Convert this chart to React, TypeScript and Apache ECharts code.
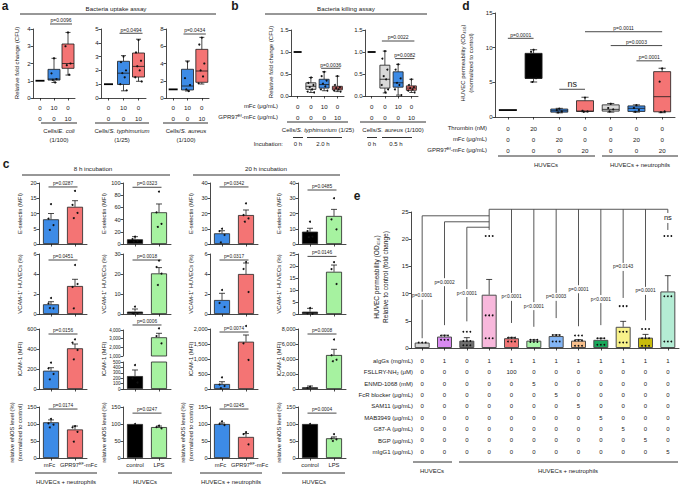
import React, { useEffect, useRef } from "react";
import * as echarts from "echarts";

const FONT = "'Liberation Sans', Arial, Helvetica, sans-serif";
const INK = "#1a1a1a";
const BLUE = "#3d8be6";
const RED = "#f47474";
const GREY = "#d9d9d9";
const BLACK = "#000000";
const LGREEN = "#a6f2a0";

// ===== Panel a: bacteria uptake assay (box plots) =====
const aMfc = [0, 10, 0];
const aGpr = [0, 0, 10];
const aColors = [BLACK, BLUE, RED];
const aEcoliBox = [[1, 1, 1, 1, 1], [0.9, 1.04, 1.1, 1.66, 2.3], [1.33, 1.72, 2.0, 3.13, 3.8]];
const aEcoliPts = [[], [2.3, 1.43, 1.1, 1.05, 0.9], [3.8, 3.0, 2.0, 1.9, 1.35]];
const aTyphBox = [[1, 1, 1, 1, 1], [0.52, 0.98, 1.8, 2.66, 3.07], [1.21, 1.52, 2.29, 3.26, 4.26]];
const aTyphPts = [[], [3.0, 2.6, 2.0, 1.8, 1.5, 1.0, 0.55], [4.2, 3.3, 2.7, 2.3, 2.0, 1.5, 1.2]];
const aAureBox = [[1, 1, 1, 1, 1], [0.81, 0.93, 1.39, 3.33, 4.29], [1.62, 1.82, 3.13, 5.64, 7.03]];
const aAurePts = [[], [4.2, 2.3, 1.5, 1.0, 0.8], [7.0, 6.2, 4.0, 3.2, 2.5, 1.7]];
const aPvals = ["p=0.0096", "p=0.0494", "p=0.0434"];
const aPvalY = [4.29, 4.69, 7.42];

// ===== Panel b: bacteria killing assay =====
const bMfc = [0, 0, 10, 0];
const bGpr = [0, 0, 0, 10];
const bColors = [BLACK, GREY, BLUE, RED];
const bTyphBox = [[1, 1, 1, 1, 1], [0.08, 0.15, 0.22, 0.3, 0.42], [0.12, 0.18, 0.26, 0.38, 0.55], [0.1, 0.14, 0.18, 0.22, 0.45]];
const bTyphPts = [[], [0.42, 0.3, 0.25, 0.2, 0.15, 0.1, 0.08], [0.55, 0.45, 0.35, 0.28, 0.22, 0.15, 0.12], [0.45, 0.25, 0.2, 0.18, 0.15, 0.12, 0.1]];
const bAureBox = [[1, 1, 1, 1, 1], [0.07, 0.18, 0.38, 0.7, 1.02], [0.02, 0.2, 0.3, 0.55, 0.72], [0.08, 0.13, 0.18, 0.23, 0.38]];
const bAurePts = [[], [1.02, 0.85, 0.6, 0.45, 0.38, 0.25, 0.15, 0.08], [0.72, 0.6, 0.4, 0.3, 0.25, 0.15, 0.02], [0.38, 0.25, 0.2, 0.18, 0.15, 0.12, 0.08]];
const bTyphBr = [[2, 3, 0.63]];
const bTyphP = ["p=0.0036"];
const bAureBr = [[1, 3, 1.25], [2, 3, 0.85]];
const bAureP = ["p=0.0022", "p=0.0082"];

// ===== Panel d: HUVEC permeability (box plots) =====
const dThrombin = [0, 20, 0, 0, 0, 0, 0];
const dMfc = [0, 0, 20, 0, 0, 20, 0];
const dGpr = [0, 0, 0, 20, 0, 0, 20];
const dColors = [BLACK, BLACK, BLUE, RED, GREY, BLUE, RED];
const dBox = [[1, 1, 1, 1, 1], [5.05, 5.57, 5.57, 9.18, 9.7], [0.6, 0.7, 0.9, 1.15, 1.25], [0.75, 0.8, 0.85, 2.35, 2.85], [0.7, 0.85, 1.1, 1.75, 1.95], [0.7, 0.8, 1.25, 1.6, 1.75], [0.62, 0.75, 2.93, 6.54, 7.03]];
const dPts = [[], [9.7, 9.4, 5.6, 5.05], [1.2, 1.0, 0.8, 0.65], [2.8, 0.9, 0.8, 0.75], [1.9, 1.3, 1.1, 0.8], [1.7, 1.3, 1.0, 0.75], [7.0, 5.1, 0.8, 0.7]];
const dBr = [[0, 1, 11.35], [2, 3, 4.0], [3, 6, 12.3], [4, 6, 10.3], [5, 6, 8.1]];
const dP = ["p=0.0001", "ns", "p=0.0011", "p=0.0003", "p=0.0001"];

// ===== Panel c: bar charts (mean ± SEM) =====
// columns: 8 h neutrophils, 8 h LPS, 20 h neutrophils, 20 h LPS
const cNeuColors = [BLUE, RED];
const cLpsColors = [BLACK, LGREEN];
const cNeuLabels = ["{m|mFc}", "{g|GPR97}{s|EF}{n|-mFc}"];
const cLpsLabels = ["{n|control}", "{n|LPS}"];
const eselMean = [[8.1, 12.2], [7.7, 52], [7.0, 19.0], [8.1, 18.4]];
const eselSem = [[1.9, 2.0], [4.3, 13.6], [1.7, 3.3], [2.2, 4.3]];
const eselPts = [[[13.1, 8.3, 6.2, 4.6], [17.4, 12.8, 10.2, 8.5]], [[12, 8, 5, 3.8], [86, 52, 33, 28]], [[10, 8.5, 5.9, 1.0], [26.7, 19, 16.8, 14.6]], [[14.6, 8.5, 4.8, 4.5], [30, 16.2, 9.6]]];
const eselMax = [20, 100, 40, 40];
const eselInt = [5, 20, 10, 10];
const eselBrY = [18.7, 93, 37.4, 35.4];
const eselP = ["p=0.0287", "p=0.0323", "p=0.0342", "p=0.0485"];

const vcamMean = [[0.97, 2.8], [1.2, 20.3], [1.4, 4.0], [0.96, 17.6]];
const vcamSem = [[0.26, 0.67], [1.3, 2.9], [0.67, 1.1], [1.4, 2.8]];
const vcamPts = [[[1.6, 1.07, 0.57, 0.6], [4.9, 2.7, 3.0, 0.57]], [[3.7, 0.5, 0.3, 0.2], [26.7, 23.5, 20.2, 14.5]], [[2.4, 1.1, 0.7], [5.2, 4.5, 2.2]], [[2.5, 0.3, 0.1], [21.6, 18.7, 12.5]]];
const vcamMax = [6, 30, 6, 25];
const vcamInt = [2, 10, 2, 5];
const vcamBrY = [5.4, 27, 5.4, 24];
const vcamP = ["p=0.0451", "p=0.0018", "p=0.0317", "p=0.0146"];

const icamMean = [[183, 407], [240, 3158], [167, 1577], [227, 4533]];
const icamSem = [[30, 43], [112, 461], [76, 223], [173, 760]];
const icamPts = [[[263, 207, 150, 97], [497, 463, 390, 297]], [[444, 198, 120], [4196, 3300, 2465]], [[390, 150, 100, 30], [2100, 1523, 967]], [[300, 150], [6600, 4500, 3900, 3700]]];
const icamMax = [600, 4000, 2000, 8000];
const icamInt = [200, 1000, 500, 2000];
const icamBrY = [550, 4577, 1900, 7333];
const icamP = ["p=0.0156", "p=0.0006", "p=0.0074", "p=0.0008"];

const enosMean = [[105, 84], [100, 91], [100, 62], [100, 58]];
const enosSem = [[7, 10], [0, 3], [3, 10], [0, 4]];
const enosPts = [[[115, 102, 98, 90], [94, 90, 77, 48]], [[100], [95, 91, 87]], [[108, 100, 97], [76, 70, 40]], [[100], [70, 58, 55, 50]]];
const enosMax = [150, 150, 150, 150];
const enosInt = [50, 50, 50, 50];
const enosBrY = [144, 132, 144, 132];
const enosP = ["p=0.0174", "p=0.0247", "p=0.0245", "p=0.0004"];

// ===== Panel e: HUVEC permeability with inhibitors =====
const eAIgG = [0, 1, 0, 1, 1, 1, 1, 1, 1, 1, 1, 1];
const eFsllry = [0, 0, 0, 0, 100, 0, 0, 0, 0, 0, 0, 0];
const eEnmd = [0, 0, 0, 0, 0, 5, 0, 0, 0, 0, 0, 0];
const eFcr = [0, 0, 0, 0, 0, 0, 5, 0, 0, 0, 0, 0];
const eSam11 = [0, 0, 0, 0, 0, 0, 0, 5, 0, 0, 0, 0];
const eMab = [0, 0, 0, 0, 0, 0, 0, 0, 5, 0, 0, 0];
const eG87 = [0, 0, 0, 0, 0, 0, 0, 0, 0, 5, 0, 0];
const eBgp = [0, 0, 0, 0, 0, 0, 0, 0, 0, 0, 5, 0];
const eMigg = [0, 0, 0, 0, 0, 0, 0, 0, 0, 0, 0, 5];
const eRowNames = ["aIgGs (mg/mL)", "FSLLRY-NH₂ (μM)", "ENMD-1068 (mM)", "FcR blocker (μg/mL)", "SAM11 (μg/mL)", "MAB3949 (μg/mL)", "G87-A (μg/mL)", "BGP (μg/mL)", "mIgG1 (μg/mL)"];
const eMean = [1.0, 2.1, 1.35, 9.8, 1.8, 1.35, 2.2, 1.35, 1.5, 3.9, 1.9, 10.4];
const eSem = [0, 0.25, 0.55, 2.8, 0.15, 0.15, 0.2, 0.2, 0.3, 1.0, 0.6, 2.9];
const eColors = ["#d4d4d4", "#d88af0", "#6e6e6e", "#f8b8dc", "#f27575", "#a9f5a9", "#83b5f5", "#f9c08c", "#17a85a", "#f8f28a", "#c8bc0c", "#b4ecd4"];
const ePts = [
  [1, 1, 1],
  [2.3, 2.3, 2.3, 1.5, 1.5, 1.5],
  [3.0, 3.0, 3.0, 1.3, 1.3, 1.3, 0.5, 0.5, 0.5],
  [20.6, 20.6, 20.6, 6.0, 6.0, 6.0, 1.8, 1.8, 1.8],
  [1.9, 1.9, 1.9, 1.2, 1.2, 1.2],
  [1.5, 1.5, 1.5, 1.1, 1.1, 1.1],
  [2.4, 2.4, 2.4, 1.2, 1.2, 1.2],
  [2.3, 2.3, 2.3, 1.4, 1.4, 1.4, 0.4, 0.4, 0.4],
  [1.8, 1.8, 1.8, 0.6, 0.6, 0.6],
  [7.7, 7.7, 7.7, 3.0, 3.0, 3.0, 1.0, 1.0, 1.0],
  [3.5, 3.5, 3.5, 1.8, 1.8, 1.8, 0.4, 0.4, 0.4],
  [20.6, 20.6, 20.6, 9.5, 9.5, 9.5, 1.2, 1.2, 1.2],
];
// comparison lines [x1, y1, x2, y2]
const eSegs = [[0, 24.3, 3, 24.3], [1, 23.2, 3, 23.2], [2, 22.2, 3, 22.2], [3, 25.5, 11, 25.5], [3, 25.5, 3, 21.7]];
// drops [category, top, label position, bottom]
const eDrops = [[0, 24.3, 9.6, 1.8], [1, 23.2, 12.1, 4.2], [2, 22.2, 10.1, 4.9], [4, 25.5, 9.4, 4.6], [5, 25.5, 7.7, 3.9], [6, 25.5, 9.4, 5.5], [7, 25.5, 10.8, 4.0], [8, 25.5, 9.0, 4.2], [9, 25.5, 14.9, 9.2], [10, 25.5, 10.5, 5.1], [11, 25.5, 23.9, 21.7]];
const eDropP = ["p=0.0001", "p=0.0002", "p<0.0001", "p<0.0001", "p<0.0001", "p=0.0003", "p=0.0001", "p<0.0001", "p=0.0143", "p=0.0001", "ns"];

function buildOption() {
  const grid: any[] = [];
  const xAxis: any[] = [];
  const yAxis: any[] = [];
  const series: any[] = [];
  const graphic: any[] = [];
  const lineStyle = { color: INK, width: 0.8 };

  function addGrid(g: any, n: number, y: any, x: any) {
    const i = grid.length;
    grid.push({ left: g.left, top: g.top, width: g.width, height: g.height });
    xAxis.push({
      type: "category",
      gridIndex: i,
      data: Array.from({ length: n }, (_, k) => String(k)),
      axisLine: { show: x.line !== false, lineStyle },
      axisTick: { show: x.tick !== false, alignWithLabel: true, length: 2.5, lineStyle },
      axisLabel: {
        show: !!x.labels,
        interval: 0,
        formatter: x.labels ? (_v: any, k: number) => x.labels(k) : undefined,
        fontSize: x.fs || 6,
        lineHeight: x.lh || 8,
        margin: x.margin == null ? 3 : x.margin,
        color: INK,
        fontFamily: FONT,
        rich: x.rich,
      },
      splitLine: { show: false },
    });
    yAxis.push({
      type: "value",
      gridIndex: i,
      min: y.min,
      max: y.max,
      interval: y.interval,
      axisLine: { show: true, lineStyle },
      axisTick: { show: true, length: 2.5, lineStyle },
      axisLabel: { show: true, fontSize: y.fs || 5.5, margin: 2.5, color: INK, fontFamily: FONT, formatter: y.fmt },
      splitLine: { show: false },
    });
    return i;
  }

  function boxSeries(gi: number, boxes: number[][], colors: string[], w: number, flatW: number) {
    series.push({
      type: "custom",
      xAxisIndex: gi,
      yAxisIndex: gi,
      silent: true,
      z: 3,
      data: boxes.map((b, k) => [k, b[0], b[1], b[2], b[3], b[4]]),
      renderItem: (params: any, api: any) => {
        const k = api.value(0);
        const c = (v: number) => api.coord([k, v]);
        const pMin = c(api.value(1));
        const x = pMin[0];
        const yMin = pMin[1];
        const yQ1 = c(api.value(2))[1];
        const yMed = c(api.value(3))[1];
        const yQ3 = c(api.value(4))[1];
        const yMax = c(api.value(5))[1];
        if (api.value(1) === api.value(5)) {
          return { type: "line", shape: { x1: x - flatW / 2, y1: yMed, x2: x + flatW / 2, y2: yMed }, style: { stroke: "#000", lineWidth: 1.8 } };
        }
        const cap = w * 0.42;
        const ls = { stroke: INK, lineWidth: 0.8 };
        return {
          type: "group",
          children: [
            { type: "line", shape: { x1: x, y1: yMax, x2: x, y2: yQ3 }, style: ls },
            { type: "line", shape: { x1: x - cap / 2, y1: yMax, x2: x + cap / 2, y2: yMax }, style: ls },
            { type: "line", shape: { x1: x, y1: yMin, x2: x, y2: yQ1 }, style: ls },
            { type: "line", shape: { x1: x - cap / 2, y1: yMin, x2: x + cap / 2, y2: yMin }, style: ls },
            { type: "rect", shape: { x: x - w / 2, y: yQ3, width: w, height: yQ1 - yQ3 }, style: { fill: colors[params.dataIndex], stroke: INK, lineWidth: 0.8 } },
            { type: "line", shape: { x1: x - w / 2, y1: yMed, x2: x + w / 2, y2: yMed }, style: ls },
          ],
        };
      },
    });
  }

  function dotSeries(gi: number, pts: number[][], r: number, jit: number[], range?: number[]) {
    const data: number[][] = [];
    pts.forEach((arr, c) => arr.forEach((v, k) => data.push([c, v, k])));
    series.push({
      type: "custom",
      xAxisIndex: gi,
      yAxisIndex: gi,
      silent: true,
      z: 5,
      data,
      renderItem: (_params: any, api: any) => {
        const v = api.value(1);
        if (range && (v < range[0] || v > range[1])) return { type: "group", children: [] };
        const p = api.coord([api.value(0), v]);
        return { type: "circle", shape: { cx: p[0] + jit[api.value(2) % jit.length], cy: p[1], r }, style: { fill: "#111" } };
      },
    });
  }

  function barSeries(gi: number, means: number[], colors: string[], w: number, border: string, bw: number) {
    series.push({
      type: "bar",
      xAxisIndex: gi,
      yAxisIndex: gi,
      silent: true,
      barWidth: w,
      clip: true,
      z: 2,
      data: means.map((m, k) => ({ value: m, itemStyle: { color: colors[k], borderColor: border, borderWidth: bw } })),
    });
  }

  function errSeries(gi: number, means: number[], sems: number[], cap: number, clip: boolean) {
    series.push({
      type: "custom",
      xAxisIndex: gi,
      yAxisIndex: gi,
      silent: true,
      clip,
      z: 4,
      data: means.map((m, k) => [k, m, m + sems[k]]),
      renderItem: (_params: any, api: any) => {
        const k = api.value(0);
        if (api.value(2) === api.value(1)) return { type: "group", children: [] };
        const p0 = api.coord([k, api.value(1)]);
        const p1 = api.coord([k, api.value(2)]);
        const ls = { stroke: INK, lineWidth: 0.8 };
        return {
          type: "group",
          children: [
            { type: "line", shape: { x1: p0[0], y1: p0[1], x2: p1[0], y2: p1[1] }, style: ls },
            { type: "line", shape: { x1: p1[0] - cap / 2, y1: p1[1], x2: p1[0] + cap / 2, y2: p1[1] }, style: ls },
          ],
        };
      },
    });
  }

  function bracketSeries(gi: number, items: number[][], labels: string[], ext: number, fs: number) {
    series.push({
      type: "custom",
      xAxisIndex: gi,
      yAxisIndex: gi,
      silent: true,
      z: 6,
      data: items,
      renderItem: (params: any, api: any) => {
        const p1 = api.coord([api.value(0), api.value(2)]);
        const p2 = api.coord([api.value(1), api.value(2)]);
        const t = labels[params.dataIndex];
        const ns = t === "ns";
        return {
          type: "group",
          children: [
            { type: "line", shape: { x1: p1[0] - ext, y1: p1[1], x2: p2[0] + ext, y2: p2[1] }, style: { stroke: INK, lineWidth: 0.8 } },
            { type: "text", x: (p1[0] + p2[0]) / 2, y: p1[1] - (ns ? 0.5 : 1.2), style: { text: t, fontSize: ns ? 9 : fs, fontFamily: FONT, fill: INK, textAlign: "center", textVerticalAlign: "bottom" } },
          ],
        };
      },
    });
  }

  const txt = (x: number, y: number, text: string, o: any = {}) =>
    graphic.push({
      type: "text",
      x,
      y,
      silent: true,
      rotation: o.rot || 0,
      style: {
        text,
        fontSize: o.fs || 6,
        fontFamily: FONT,
        fill: INK,
        fontWeight: o.bold ? "bold" : "normal",
        textAlign: o.align || "center",
        textVerticalAlign: "middle",
        lineHeight: o.lh,
        rich: o.rich,
      },
    });
  const hline = (x1: number, x2: number, y: number, w = 0.9) =>
    graphic.push({ type: "line", silent: true, shape: { x1, y1: y, x2, y2: y }, style: { stroke: INK, lineWidth: w } });
  const ital = { i: { fontStyle: "italic", fontSize: 6, fontFamily: FONT, fill: INK }, n: { fontSize: 6, fontFamily: FONT, fill: INK } };
  const supRich = {
    n: { fontSize: 5.8, fontFamily: FONT, color: INK, lineHeight: 7 },
    m: { fontSize: 5.8, fontFamily: FONT, color: INK, lineHeight: 7, padding: [0, 3, 0, 0] },
    g: { fontSize: 5.8, fontFamily: FONT, color: INK, lineHeight: 7, padding: [0, 0, 0, 7] },
    s: { fontSize: 3.8, fontFamily: FONT, color: INK, lineHeight: 7, verticalAlign: "top" },
  };
  const ROT = Math.PI / 2;

  // ---------- Panel a ----------
  const aBoxes = [aEcoliBox, aTyphBox, aAureBox];
  const aPts = [aEcoliPts, aTyphPts, aAurePts];
  const aGrids = [
    { left: 33, top: 29, width: 42, height: 69 },
    { left: 101, top: 29, width: 45, height: 69 },
    { left: 166, top: 29, width: 43, height: 69 },
  ];
  const aAxis = [
    { min: 0, max: 4, interval: 1 },
    { min: 0, max: 5, interval: 1 },
    { min: 0, max: 8, interval: 2 },
  ];
  const jitBox = [0, -2.5, 2.5, -1.2, 1.2, -3.2, 3.2, 0.6];
  for (let i = 0; i < 3; i++) {
    const gi = addGrid(aGrids[i], 3, { ...aAxis[i], fs: 6 }, { labels: (k: number) => `${aMfc[k]}\n${aGpr[k]}`, fs: 6.2, lh: 11, margin: 3.5 });
    boxSeries(gi, aBoxes[i], aColors, 12, 9);
    dotSeries(gi, aPts[i], 1.1, jitBox);
    bracketSeries(gi, [[1, 2, aPvalY[i]]], [aPvals[i]], 4, 5);
  }
  txt(5, 6, "a", { fs: 12, bold: true });
  txt(116, 8.5, "Bacteria uptake assay", { fs: 6.2 });
  hline(20, 216, 14);
  txt(17, 63, "Relative fold change (CFU)", { rot: ROT, fs: 6 });
  hline(41, 77, 123);
  hline(95, 149, 123);
  hline(163, 208, 123);
  txt(59, 131, "{n|Cells/}{i|E. coli}", { rich: ital });
  txt(59, 139.5, "(1/100)");
  txt(122, 131, "{n|Cells/}{i|S. typhimurium}", { rich: ital });
  txt(122, 139.5, "(1/25)");
  txt(186, 131, "{n|Cells/}{i|S. aureus}", { rich: ital });
  txt(186, 139.5, "(1/100)");

  // ---------- Panel b ----------
  const bFmt = (v: number) => v.toFixed(1);
  const b1 = addGrid({ left: 291, top: 30, width: 53, height: 66 }, 4, { min: 0, max: 1.5, interval: 0.5, fmt: bFmt, fs: 6 }, { labels: (k: number) => `${bMfc[k]}\n${bGpr[k]}`, fs: 6.2, lh: 11, margin: 4.5 });
  boxSeries(b1, bTyphBox, bColors, 10, 8);
  dotSeries(b1, bTyphPts, 1.0, jitBox);
  bracketSeries(b1, bTyphBr, bTyphP, 3, 5);
  const b2 = addGrid({ left: 365, top: 30, width: 53, height: 66 }, 4, { min: 0, max: 1.5, interval: 0.5, fmt: bFmt, fs: 6 }, { labels: (k: number) => `${bMfc[k]}\n${bGpr[k]}`, fs: 6.2, lh: 11, margin: 4.5 });
  boxSeries(b2, bAureBox, bColors, 10, 8);
  dotSeries(b2, bAurePts, 1.0, jitBox);
  bracketSeries(b2, bAureBr, bAureP, 3, 5);
  txt(235, 6, "b", { fs: 12, bold: true });
  txt(346, 8.5, "Bacteria killing assay", { fs: 6.2 });
  hline(265, 427, 14);
  txt(271, 62, "Relative fold change (CFU)", { rot: ROT, fs: 6 });
  txt(278, 106, "mFc (μg/mL)", { align: "right" });
  txt(278, 117, "GPR97ᴱᶠ-mFc (μg/mL)", { align: "right" });
  hline(287, 348, 122);
  hline(360, 426, 122);
  txt(318, 129.5, "{n|Cells/}{i|S. typhimurium}{n| (1/25)}", { rich: ital });
  txt(393, 129.5, "{n|Cells/}{i|S. aureus}{n| (1/100)}", { rich: ital });
  hline(293, 303, 137.5);
  hline(307, 342, 137.5);
  hline(367, 377, 137.5);
  hline(382, 412, 137.5);
  txt(283, 144, "Incubation:", { align: "right" });
  txt(298, 144, "0 h");
  txt(323, 144, "2.0 h");
  txt(372, 144, "0 h");
  txt(396, 144, "0.5 h");

  // ---------- Panel d ----------
  const di = addGrid({ left: 495, top: 13, width: 180, height: 104 }, 7, { min: 0, max: 15, interval: 5, fs: 6 }, { labels: (k: number) => `${dThrombin[k]}\n${dMfc[k]}\n${dGpr[k]}`, fs: 6.2, lh: 11, margin: 5.5 });
  boxSeries(di, dBox, dColors, 17, 18);
  dotSeries(di, dPts, 1.1, jitBox);
  bracketSeries(di, dBr, dP, 0, 5);
  txt(466, 6, "d", { fs: 12, bold: true });
  txt(467, 63, "HUVEC permeability (OD₄₅₀)\n(normalized to control)", { rot: ROT, fs: 6, lh: 7.5 });
  txt(487, 128, "Thrombin (nM)", { align: "right" });
  txt(487, 139, "mFc (μg/mL)", { align: "right" });
  txt(487, 150, "GPR97ᴱᶠ-mFc (μg/mL)", { align: "right" });
  hline(498, 595, 156);
  hline(602, 678, 156);
  txt(546, 165, "HUVECs");
  txt(640, 165, "HUVECs + neutrophils");

  // ---------- Panel c ----------
  const cColX = [39, 123, 210, 298];
  const cRowTop = [183, 254, 329, 407];
  const cRowH = [61, 60, 60, 51];
  const rMean = [eselMean, vcamMean, icamMean, enosMean];
  const rSem = [eselSem, vcamSem, icamSem, enosSem];
  const rPts = [eselPts, vcamPts, icamPts, enosPts];
  const rMax = [eselMax, vcamMax, icamMax, enosMax];
  const rInt = [eselInt, vcamInt, icamInt, enosInt];
  const rBrY = [eselBrY, vcamBrY, icamBrY, enosBrY];
  const rP = [eselP, vcamP, icamP, enosP];
  const rTitle = ["E-selectin (MFI)", "VCAM-1⁺ HUVECs (%)", "ICAM-1 (MFI)", "relative eNOS level (%)"];
  const jitC = [0, -2.5, 2.5, -1.2, 1.2];
  for (let r = 0; r < 4; r++) {
    for (let c = 0; c < 4; c++) {
      const colors = c % 2 === 0 ? cNeuColors : cLpsColors;
      const xl = c % 2 === 0 ? cNeuLabels : cLpsLabels;
      const cx = cColX[c];
      if (r === 2 && c === 1) {
        const gu = addGrid({ left: cx, top: 330, width: 48, height: 26 }, 2, { min: 1000, max: 4000, interval: 1000, fs: 4.5 }, { line: false, tick: false });
        const gl = addGrid({ left: cx, top: 362, width: 48, height: 27 }, 2, { min: 0, max: 500, interval: 100, fs: 4.5 }, {});
        for (const g of [gu, gl]) {
          barSeries(g, rMean[r][c], colors, 16, "#222", 0.8);
          errSeries(g, rMean[r][c], rSem[r][c], 6, true);
        }
        dotSeries(gu, rPts[r][c], 1.0, jitC, [1000, 4300]);
        dotSeries(gl, rPts[r][c], 1.0, jitC, [0, 500]);
        bracketSeries(gu, [[0, 1, rBrY[r][c]]], [rP[r][c]], 2.5, 4.8);
      } else {
        const gi = addGrid(
          { left: cx, top: cRowTop[r], width: 48, height: cRowH[r] },
          2,
          { min: 0, max: rMax[r][c], interval: rInt[r][c], fs: 5.5 },
          r === 3 ? { labels: (k: number) => xl[k], fs: 5.8, lh: 7, margin: 3.5, rich: supRich } : {}
        );
        barSeries(gi, rMean[r][c], colors, 16, "#222", 0.8);
        errSeries(gi, rMean[r][c], rSem[r][c], 6, false);
        dotSeries(gi, rPts[r][c], 1.0, jitC);
        bracketSeries(gi, [[0, 1, rBrY[r][c]]], [rP[r][c]], 2.5, 4.8);
      }
      const midY = cRowTop[r] + cRowH[r] / 2;
      if (r === 3 && c % 2 === 0) {
        txt(cx - 23, midY, "relative eNOS level (%)\n(normalized to control)", { rot: ROT, fs: 5.8, lh: 7.5 });
      } else {
        txt(cx - 19, midY, rTitle[r], { rot: ROT, fs: 5.8 });
      }
    }
  }
  txt(6, 164, "c", { fs: 12, bold: true });
  txt(93, 168, "8 h incubation", { fs: 6.2 });
  hline(22, 170, 175);
  txt(266, 168, "20 h incubation", { fs: 6.2 });
  hline(193, 340, 175);
  hline(35, 97, 473);
  hline(118, 172, 473);
  hline(200, 262, 473);
  hline(282, 345, 473);
  txt(66, 482, "HUVECs + neutrophils");
  txt(145, 482, "HUVECs");
  txt(231, 482, "HUVECs + neutrophils");
  txt(314, 482, "HUVECs");

  // ---------- Panel e ----------
  const eRows = [eAIgG, eFsllry, eEnmd, eFcr, eSam11, eMab, eG87, eBgp, eMigg];
  const ei = addGrid({ left: 411, top: 212, width: 268, height: 136 }, 12, { min: 0, max: 25, interval: 5, fs: 6 }, { labels: (k: number) => eRows.map((row) => row[k]).join("\n"), fs: 6, lh: 11.36, margin: 7.3 });
  barSeries(ei, eMean, eColors, 15, "#4d4d4d", 1);
  errSeries(ei, eMean, eSem, 6, false);
  dotSeries(ei, ePts, 0.9, [-3.5, 0, 3.5]);
  const segStyle = { stroke: "#444", lineWidth: 0.9 };
  series.push({
    type: "custom",
    xAxisIndex: ei,
    yAxisIndex: ei,
    silent: true,
    z: 6,
    data: eSegs,
    renderItem: (_params: any, api: any) => {
      const p1 = api.coord([api.value(0), api.value(1)]);
      const p2 = api.coord([api.value(2), api.value(3)]);
      return { type: "line", shape: { x1: p1[0], y1: p1[1], x2: p2[0], y2: p2[1] }, style: segStyle };
    },
  });
  series.push({
    type: "custom",
    xAxisIndex: ei,
    yAxisIndex: ei,
    silent: true,
    z: 6,
    data: eDrops,
    renderItem: (params: any, api: any) => {
      const k = api.value(0);
      const pt = api.coord([k, api.value(1)]);
      const pl = api.coord([k, api.value(2)]);
      const pb = api.coord([k, api.value(3)]);
      const t = eDropP[params.dataIndex];
      const ns = t === "ns";
      const gap = ns ? 5 : 4;
      return {
        type: "group",
        children: [
          { type: "line", shape: { x1: pt[0], y1: pt[1], x2: pt[0], y2: pl[1] - gap }, style: segStyle },
          { type: "line", shape: { x1: pt[0], y1: pl[1] + gap, x2: pt[0], y2: pb[1] }, style: segStyle },
          { type: "text", x: pl[0], y: pl[1], style: { text: t, fontSize: ns ? 7.5 : 4.8, fontFamily: FONT, fill: INK, textAlign: "center", textVerticalAlign: "middle" } },
        ],
      };
    },
  });
  txt(357, 196, "e", { fs: 12, bold: true });
  txt(381, 277, "HUVEC permeability (OD₄₅₀)\nRelative to control (fold change)", { rot: ROT, fs: 6.5, lh: 8.5 });
  eRowNames.forEach((name, k) => txt(413, 361 + k * 11.36, name, { align: "right" }));
  hline(413, 452, 462);
  hline(459, 678, 462);
  txt(432, 471, "HUVECs");
  txt(568, 471, "HUVECs + neutrophils");

  return {
    animation: false,
    backgroundColor: "#ffffff",
    textStyle: { fontFamily: FONT },
    grid,
    xAxis,
    yAxis,
    series,
    graphic: { elements: graphic },
  };
}

export default function App() {
  const ref = useRef<HTMLDivElement>(null);
  useEffect(() => {
    if (!ref.current) return;
    const chart = echarts.init(ref.current, null, { renderer: "svg" });
    chart.setOption(buildOption() as any);
    return () => chart.dispose();
  }, []);
  return <div ref={ref} style={{ position: "fixed", left: 0, top: 0, width: 680, height: 485, background: "#ffffff" }} />;
}
